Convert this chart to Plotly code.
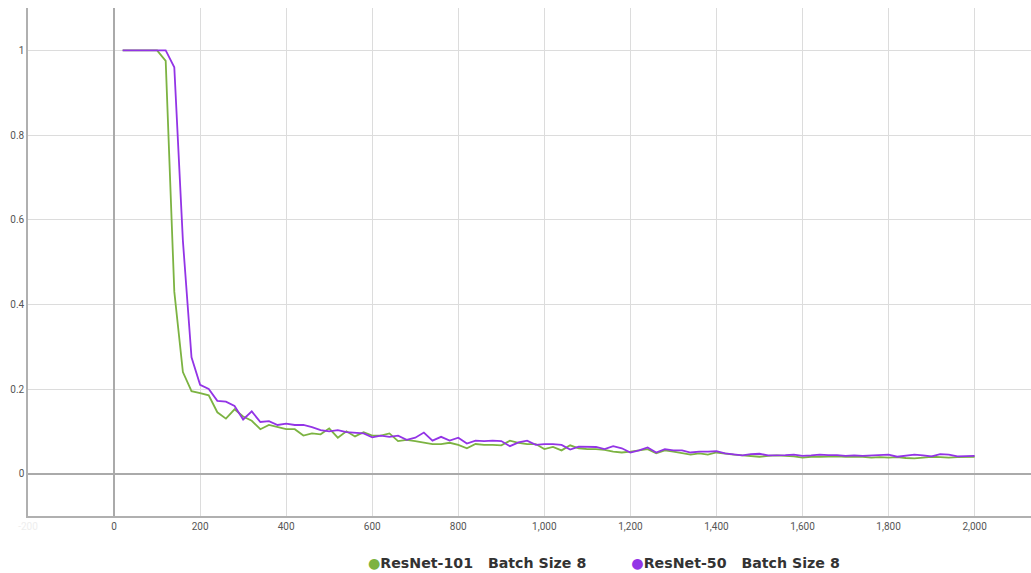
import plotly.graph_objects as go

# training step at which each value was logged
steps = list(range(20, 2001, 20))

resnet101_bs8 = [
    1.0, 1.0, 1.0, 1.0, 1.0, 0.975, 0.43, 0.24, 0.195, 0.19,
    0.185, 0.145, 0.13, 0.152, 0.135, 0.125, 0.105, 0.115, 0.11, 0.105,
    0.105, 0.09, 0.095, 0.093, 0.107, 0.085, 0.1, 0.088, 0.098, 0.09,
    0.09, 0.095, 0.077, 0.08, 0.077, 0.073, 0.07, 0.07, 0.073, 0.068,
    0.06, 0.07, 0.068, 0.068, 0.067, 0.078, 0.073, 0.07, 0.07, 0.058,
    0.063, 0.055, 0.067, 0.06, 0.058, 0.058, 0.056, 0.052, 0.05, 0.052,
    0.055, 0.058, 0.048, 0.055, 0.052, 0.048, 0.045, 0.048, 0.045, 0.05,
    0.047, 0.045, 0.043, 0.042, 0.04, 0.042, 0.043, 0.042, 0.041, 0.038,
    0.04, 0.04, 0.041, 0.041, 0.04, 0.04, 0.04, 0.038, 0.039, 0.038,
    0.039, 0.037, 0.036, 0.038, 0.04, 0.039, 0.038, 0.039, 0.04, 0.04,
]

resnet50_bs8 = [
    1.0, 1.0, 1.0, 1.0, 1.0, 1.0, 0.96, 0.55, 0.275, 0.21,
    0.2, 0.172, 0.17, 0.16, 0.128, 0.147, 0.122, 0.124, 0.115, 0.118,
    0.115, 0.115, 0.11, 0.103, 0.1, 0.103, 0.098, 0.096, 0.095, 0.086,
    0.09, 0.087, 0.09, 0.08, 0.085, 0.097, 0.078, 0.087, 0.078, 0.085,
    0.071, 0.078, 0.077, 0.078, 0.077, 0.065, 0.074, 0.078, 0.068, 0.07,
    0.07, 0.068, 0.057, 0.064, 0.063, 0.063, 0.058, 0.065, 0.06, 0.05,
    0.055, 0.062, 0.05, 0.058, 0.055, 0.055, 0.05, 0.052, 0.052, 0.053,
    0.048, 0.046, 0.043, 0.046, 0.047, 0.043, 0.043, 0.044, 0.045, 0.042,
    0.043, 0.045, 0.044, 0.044, 0.042, 0.043, 0.042, 0.043, 0.044, 0.045,
    0.04, 0.043, 0.045, 0.043, 0.041, 0.046, 0.045, 0.041, 0.042, 0.042,
]

x_ticks = [-200, 0, 200, 400, 600, 800, 1000, 1200, 1400, 1600, 1800, 2000]
y_ticks = [0, 0.2, 0.4, 0.6, 0.8, 1]

GREEN = "#7cb342"
PURPLE = "#9334e6"
NB = "\u00a0"

series = [
    ("ResNet-101", resnet101_bs8, GREEN),
    ("ResNet-50", resnet50_bs8, PURPLE),
]

fig = go.Figure()
for model, values, color in series:
    fig.add_trace(go.Scatter(
        x=steps, y=values, mode="lines", showlegend=False,
        name=f"{model}{NB*3}Batch Size 8",
        line=dict(color=color, width=1.8),
    ))
# legend entries: a coloured dot glyph followed by the series label
for model, values, color in series:
    fig.add_trace(go.Scatter(
        x=[None], y=[None], mode="markers",
        name=f"<span style='color:{color}'>●</span>{model}{NB*3}Batch Size 8",
        marker=dict(color="rgba(0,0,0,0)", size=1, line=dict(width=0)),
    ))

tick_font = dict(family="Roboto, Arial, sans-serif", size=10, color="#555")

fig.update_layout(
    width=1031, height=573,
    margin=dict(l=28, r=0, t=8, b=57, autoexpand=False),
    paper_bgcolor="white", plot_bgcolor="white",
    showlegend=True,
    legend=dict(
        orientation="h", x=0.299, xanchor="left", y=-0.092, yanchor="middle",
        font=dict(family="DejaVu Sans, sans-serif", size=14.2, color="#333", weight="bold"),
        itemwidth=30, tracegroupgap=0,
        bgcolor="rgba(0,0,0,0)",
    ),
    xaxis=dict(
        range=[-200, 2131], tickvals=x_ticks,
        ticktext=["<span style='color:#eeeeee'>-200</span>"] + [f"{v:,}" for v in x_ticks[1:]],
        tickfont=tick_font, ticks="", ticklen=0,
        showgrid=True, gridcolor="#dcdcdc", gridwidth=1,
        zeroline=True, zerolinecolor="#aaaaaa", zerolinewidth=1.5,
        showline=True, linecolor="#b0b0b0", linewidth=1.5,
    ),
    yaxis=dict(
        range=[-0.1, 1.1], tickvals=y_ticks,
        ticktext=["0", "0.2", "0.4", "0.6", "0.8", "1"],
        tickfont=tick_font, ticks="",
        showgrid=True, gridcolor="#dcdcdc", gridwidth=1,
        zeroline=True, zerolinecolor="#aaaaaa", zerolinewidth=1.5,
        showline=True, linecolor="#b0b0b0", linewidth=1.5,
    ),
)

fig.write_html("out.html")
